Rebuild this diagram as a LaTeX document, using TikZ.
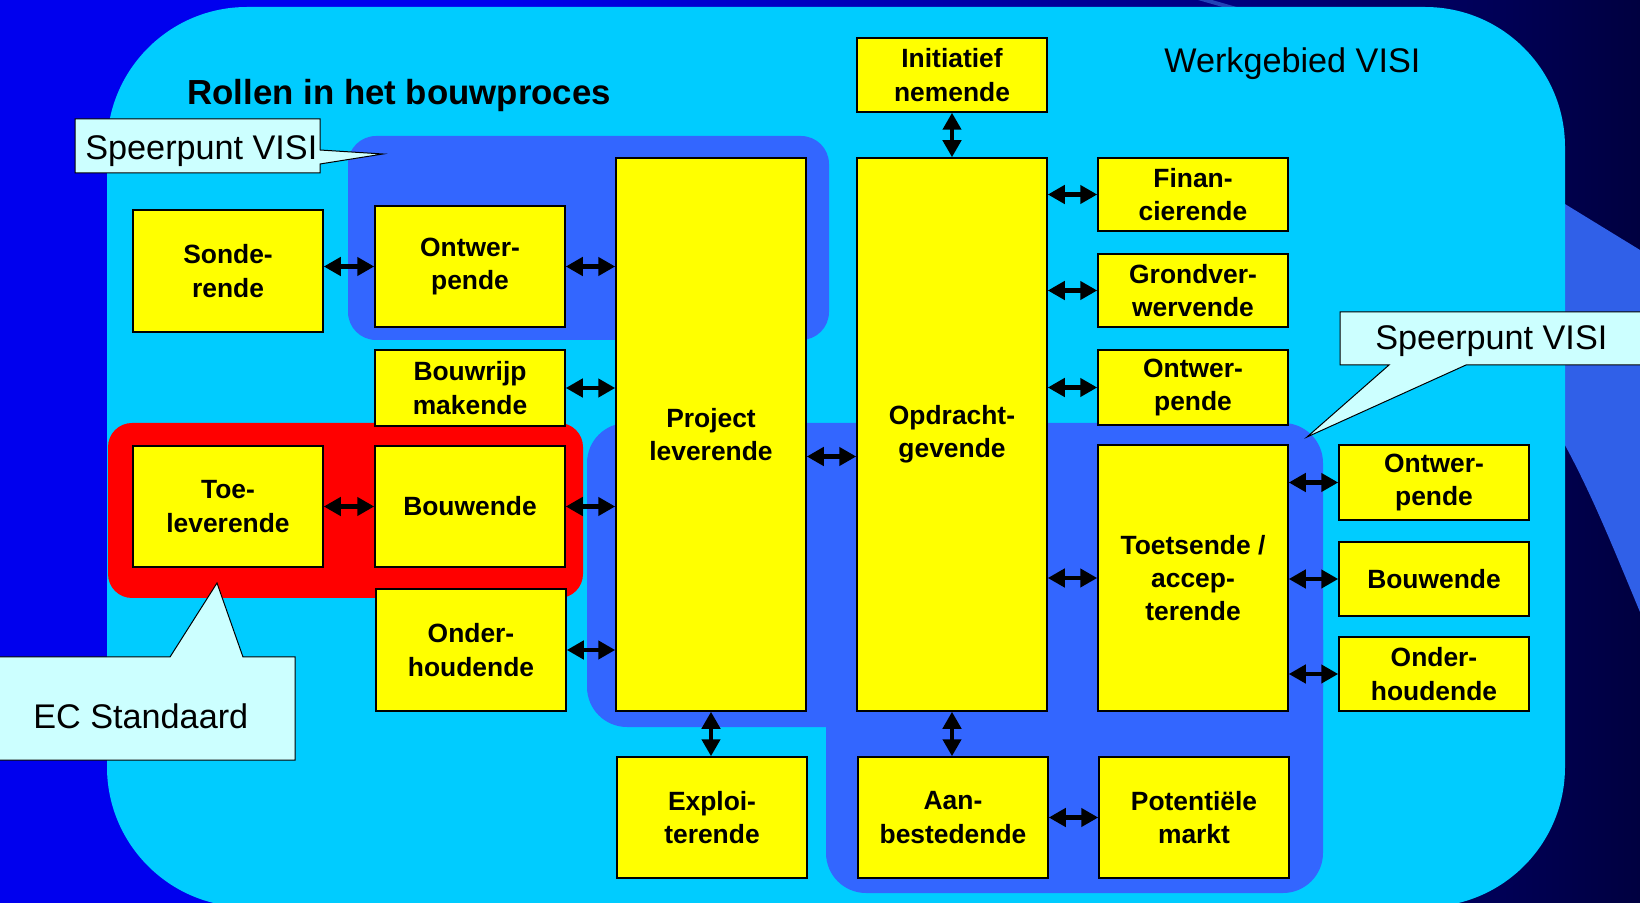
\documentclass[tikz,border=0pt]{standalone}
\usepackage{fontspec}
\setmainfont{Liberation Sans}
\usetikzlibrary{arrows.meta}
\definecolor{slideblue}{HTML}{0000EE}
\definecolor{slidenavy}{HTML}{000040}
\definecolor{workcyan}{HTML}{00CCFF}
\definecolor{focusblue}{HTML}{3366FF}
\definecolor{bandblue}{HTML}{3060E8}
\definecolor{ecred}{HTML}{FF0000}
\definecolor{roleyellow}{HTML}{FFFF00}
\definecolor{notefill}{HTML}{CCFFFF}

\begin{document}
\begin{tikzpicture}[x=0.5pt, y=-0.5pt]
        \tikzset{role/.style = {shape=rectangle, draw, line width=0.75pt, fill=roleyellow, minimum width=95pt, inner sep=0pt, align=center, font=\bfseries\fontsize{13.2}{16.6}\selectfont},
                 link/.style = {{Triangle[length=8.5pt,width=9pt]}-{Triangle[length=8.5pt,width=9pt]}, line width=2.2pt},
                 note/.style = {fill=notefill, draw, line width=0.5pt},
                 heading/.style = {anchor=base west, inner sep=0pt, font=\fontsize{17.1}{20}\selectfont}}
        \useasboundingbox (0,0) rectangle (1640,903);
        % background
        \fill[slideblue] (0,0) rectangle (502,903);
        \shade[left color=slideblue, right color=slidenavy] (500,0) rectangle (1640,903);
        \fill[bandblue] (1560,201) -- (1640,250) -- (1640,612) .. controls (1610,540) and (1590,490) .. (1560,436) -- cycle;
        \fill[bandblue!70!slidenavy] (1198,0) -- (1212,0) -- (1240,8) -- (1226,8) -- cycle;
        % areas
        \fill[workcyan, rounded corners=70pt] (107,7) rectangle (1565,907);
        \fill[focusblue, rounded corners=14pt] (348,136) rectangle (829,340);
        \fill[focusblue, rounded corners=20pt] (587,423) rectangle (1323,727);
        \fill[focusblue, rounded corners=20pt] (826,600) rectangle (1323,893);
        \fill[ecred, rounded corners=12pt] (108,423) rectangle (583,598);
        % callouts
        \draw[note] (75,119) -- (320,119) -- (320,150) -- (383,154) -- (320,164) -- (320,173) -- (75,173) -- cycle;
        \draw[note] (1340,312) -- (1650,312) -- (1650,365) -- (1466,365) -- (1307,437) -- (1389,365) -- (1340,365) -- cycle;
        \draw[note] (-10,657) -- (170,657) -- (217,583) -- (243,657) -- (295,657) -- (295,760) -- (-10,760) -- cycle;
        % texts
        \node[heading, font=\bfseries\fontsize{17.4}{20}\selectfont] (title) at (187,105) {Rollen in het bouwproces};
        \node[heading] (area) at (1164,73) {Werkgebied VISI};
        \node[heading] (focusL) at (85,160) {Speerpunt VISI};
        \node[heading] (focusR) at (1375,350) {Speerpunt VISI};
        \node[heading] (ecstd) at (33,728) {EC Standaard};
        % roles
        \node[role, minimum height=37pt] (init) at (952,75) {Initiatief\\nemende};
        \node[role, minimum height=61pt] (sonde) at (228,271) {Sonde-\\rende};
        \node[role, minimum height=60.5pt] (ontwL) at (470,266.5) {Ontwer-\\pende};
        \node[role, minimum height=38pt] (bouwrijp) at (470,388) {Bouwrijp\\makende};
        \node[role, minimum height=276.5pt] (proj) at (711,434.5) {Project\\leverende};
        \node[role, minimum height=276.5pt] (opd) at (952,434.5) {Opdracht-\\gevende};
        \node[role, minimum height=36.5pt] (finan) at (1193,194.5) {Finan-\\cierende};
        \node[role, minimum height=36.5pt] (grond) at (1193,290.5) {Grondver-\\wervende};
        \node[role, minimum height=37.5pt] (ontwR) at (1193,387.5) {Ontwer-\\pende};
        \node[role, minimum height=60.5pt] (toelev) at (228,506.5) {Toe-\\leverende};
        \node[role, minimum height=60.5pt] (bouwL) at (470,506.5) {Bouwende};
        \node[role, minimum height=61pt] (onderL) at (471,650) {Onder-\\houdende};
        \node[role, minimum height=133pt] (toets) at (1193,578) {Toetsende /\\accep-\\terende};
        \node[role, minimum height=37.5pt] (ontwX) at (1434,482.5) {Ontwer-\\pende};
        \node[role, minimum height=37pt] (bouwR) at (1434,579) {Bouwende};
        \node[role, minimum height=37pt] (onderR) at (1434,674) {Onder-\\houdende};
        \node[role, minimum height=60.5pt] (expl) at (712,817.5) {Exploi-\\terende};
        \node[role, minimum height=60.5pt] (aanb) at (953,817.5) {Aan-\\bestedende};
        \node[role, minimum height=60.5pt] (potent) at (1194,817.5) {Potentiële\\markt};
        % links
        \draw[link] (ontwL.west -| sonde.east) -- (ontwL.west);
        \draw[link] (ontwL.east) -- (ontwL.east -| proj.west);
        \draw[link] (bouwrijp.east) -- (bouwrijp.east -| proj.west);
        \draw[link] (toelev.east) -- (bouwL.west);
        \draw[link] (bouwL.east) -- (bouwL.east -| proj.west);
        \draw[link] (onderL.east) -- (onderL.east -| proj.west);
        \draw[link] ([yshift=-11pt]proj.east) -- ([yshift=-11pt]opd.west);
        \draw[link] (proj.south) -- (proj.south |- expl.north);
        \draw[link] (init.south) -- (opd.north);
        \draw[link] (opd.east |- finan.west) -- (finan.west);
        \draw[link] (opd.east |- grond.west) -- (grond.west);
        \draw[link] (opd.east |- ontwR.west) -- (ontwR.west);
        \draw[link] (opd.east |- toets.west) -- (toets.west);
        \draw[link] (toets.east |- ontwX.west) -- (ontwX.west);
        \draw[link] (toets.east |- bouwR.west) -- (bouwR.west);
        \draw[link] (toets.east |- onderR.west) -- (onderR.west);
        \draw[link] (opd.south) -- (opd.south |- aanb.north);
        \draw[link] (aanb.east) -- (potent.west);
\end{tikzpicture}
\end{document}
